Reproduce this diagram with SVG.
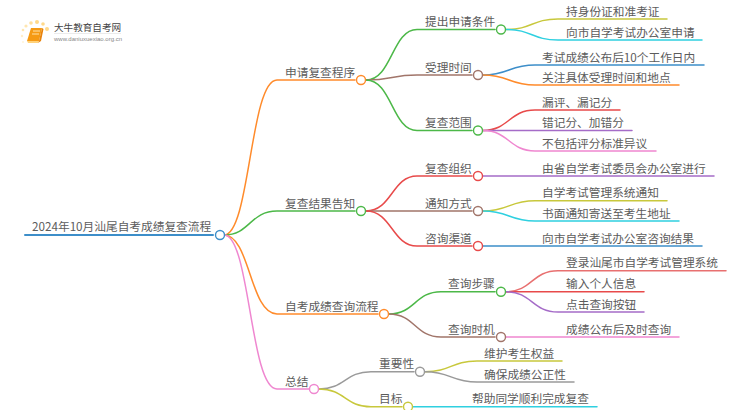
<svg xmlns="http://www.w3.org/2000/svg" width="750" height="410" viewBox="0 0 750 410">
<style>
text{font-family:"Noto Sans CJK SC","Noto Sans",sans-serif;font-size:11.7px;fill:#5c5c5c}
.l{fill:none;stroke-width:1.5;stroke-linecap:round}
.root{stroke-width:2}
circle{fill:#fff;stroke-width:1.4}
.bl{stroke:#3d8ec9}.or{stroke:#ff8b2b}.gr{stroke:#4cb848}.re{stroke:#e84a4a}.pu{stroke:#a56cc8}.br{stroke:#a1756a}.pi{stroke:#ef87d0}.gy{stroke:#9a9a9a}.ol{stroke:#c8c83c}.cy{stroke:#2fd0e0}.sa{stroke:#e87070}
</style>
<rect width="750" height="410" fill="#fff"/>
<g id="logo">
<circle cx="47" cy="29" r="2" style="fill:#ffd98a;stroke:none"/>
<circle cx="26" cy="26" r="1.6" style="fill:#ffe6b0;stroke:none"/>
<circle cx="23" cy="30" r="1.3" style="fill:#ffe6b0;stroke:none"/>
<circle cx="22" cy="36" r="1.2" style="fill:#ffeecb;stroke:none"/>
<circle cx="23" cy="42" r="1" style="fill:#fff3d9;stroke:none"/>
<circle cx="31" cy="23" r="1.8" style="fill:#ffdf9c;stroke:none"/>
<circle cx="37" cy="22" r="2" style="fill:#ffd98a;stroke:none"/>
<circle cx="43" cy="24" r="1.8" style="fill:#ffd98a;stroke:none"/>
<path d="M31 28H42L39 41H27Z" fill="#f59a14"/>
<path d="M27 41H39L38 43H28Z" fill="#ffd27a"/>
<path d="M42 28L39 41L38 43L41 41L43.500 29Z" fill="#e8830c"/>
<path d="M33 31H40M32 34H39" stroke="#ffe2a8" stroke-width="1" fill="none"/>
<text x="54" y="31" style="font-size:9.600px;fill:#444">大牛教育自考网</text>
<path d="M54 33.500H121" stroke="#ddd" stroke-width="0.600" fill="none"/>
<text x="54" y="41" style="font-size:6px;fill:#888;font-family:'Liberation Sans',sans-serif">www.daniuxuexiao.org.cn</text>
</g>
<g id="connectors">
<path class="l root bl" d="M25 235H213"/>
<path class="l or" d="M224 235C250 235 250 80 277 80H355"/>
<path class="l gr" d="M224 235C250 235 250 211 277 211H355"/>
<path class="l or" d="M224 235C250 235 250 314 277 314H378"/>
<path class="l pi" d="M224 235C250 235 250 389 277 389H309"/>
<path class="l gr" d="M366 80C392 80 392 29.500 417 29.500H495"/>
<path class="l br" d="M366 80C392 80 392 75 417 75H472"/>
<path class="l gr" d="M366 80C392 80 392 130.500 417 130.500H472"/>
<path class="l re" d="M366 211C392 211 392 176 417 176H472"/>
<path class="l br" d="M366 211C392 211 392 211 417 211H472"/>
<path class="l re" d="M366 211C392 211 392 246 417 246H472"/>
<path class="l gr" d="M389 314C415 314 415 291.700 441 291.700H495"/>
<path class="l br" d="M389 314C415 314 415 337 441 337H495"/>
<path class="l gy" d="M319 389C345 389 345 371.700 371 371.700H414"/>
<path class="l ol" d="M319 389C345 389 345 406.700 371 406.700H402"/>
<path class="l ol" d="M506 29.500C532 29.500 532 19 558 19H667"/>
<path class="l cy" d="M506 29.500C532 29.500 532 40 558 40H702"/>
<path class="l bl" d="M483 75C509 75 509 65 535 65H704"/>
<path class="l or" d="M483 75C509 75 509 85 535 85H679"/>
<path class="l re" d="M483 130.500C509 130.500 509 110 535 110H620"/>
<path class="l pu" d="M483 130.500C509 130.500 509 130.500 535 130.500H632"/>
<path class="l pi" d="M483 130.500C509 130.500 509 151 535 151H656"/>
<path class="l pu" d="M483 176H714"/>
<path class="l ol" d="M483 211C509 211 509 200.700 535 200.700H667"/>
<path class="l cy" d="M483 211C509 211 509 221 535 221H679"/>
<path class="l bl" d="M483 246H702"/>
<path class="l sa" d="M506 291.700C532 291.700 532 270.700 558 270.700H726"/>
<path class="l re" d="M506 291.700H644"/>
<path class="l pu" d="M506 291.700C532 291.700 532 312 558 312H644"/>
<path class="l pi" d="M506 337H679"/>
<path class="l ol" d="M425 371.700C451 371.700 451 361 477 361H562"/>
<path class="l gy" d="M425 371.700C451 371.700 451 382 477 382H574"/>
<path class="l cy" d="M413 406.700H597"/>
</g>
<g id="n0"><text x="32" y="231">2024年10月汕尾自考成绩复查流程</text><circle class="bl" cx="220" cy="235" r="4.500"/></g>
<g id="n1"><text x="285" y="76.500">申请复查程序</text><circle class="or" cx="361" cy="80" r="4.500"/></g>
<g id="n2"><text x="285" y="207.500">复查结果告知</text><circle class="gr" cx="361" cy="211" r="4.500"/></g>
<g id="n3"><text x="285" y="310.500">自考成绩查询流程</text><circle class="or" cx="384" cy="314" r="4.500"/></g>
<g id="n4"><text x="285" y="385.500">总结</text><circle class="pi" cx="314" cy="389" r="4.500"/></g>
<g id="n5"><text x="425" y="26">提出申请条件</text><circle class="gr" cx="501" cy="29.500" r="4.500"/></g>
<g id="n6"><text x="425" y="71.500">受理时间</text><circle class="br" cx="478" cy="75" r="4.500"/></g>
<g id="n7"><text x="425" y="127">复查范围</text><circle class="gr" cx="478" cy="130.500" r="4.500"/></g>
<g id="n8"><text x="425" y="172.500">复查组织</text><circle class="re" cx="478" cy="176" r="4.500"/></g>
<g id="n9"><text x="425" y="207.500">通知方式</text><circle class="br" cx="478" cy="211" r="4.500"/></g>
<g id="n10"><text x="425" y="242.500">咨询渠道</text><circle class="re" cx="478" cy="246" r="4.500"/></g>
<g id="n11"><text x="448" y="288.200">查询步骤</text><circle class="gr" cx="501" cy="291.700" r="4.500"/></g>
<g id="n12"><text x="448" y="333.500">查询时机</text><circle class="br" cx="501" cy="337" r="4.500"/></g>
<g id="n13"><text x="379" y="368.200">重要性</text><circle class="gy" cx="420" cy="371.700" r="4.500"/></g>
<g id="n14"><text x="379" y="403.200">目标</text><circle class="ol" cx="408" cy="406.700" r="4.500"/></g>
<g id="leaves">
<text x="566" y="15.500">持身份证和准考证</text>
<text x="566" y="36.500">向市自学考试办公室申请</text>
<text x="542" y="61.500">考试成绩公布后10个工作日内</text>
<text x="542" y="81.500">关注具体受理时间和地点</text>
<text x="542" y="106.500">漏评、漏记分</text>
<text x="542" y="127">错记分、加错分</text>
<text x="542" y="147.500">不包括评分标准异议</text>
<text x="542" y="172.500">由省自学考试委员会办公室进行</text>
<text x="542" y="197.200">自学考试管理系统通知</text>
<text x="542" y="217.500">书面通知寄送至考生地址</text>
<text x="542" y="242.500">向市自学考试办公室咨询结果</text>
<text x="566" y="267.200">登录汕尾市自学考试管理系统</text>
<text x="566" y="288.200">输入个人信息</text>
<text x="566" y="308.500">点击查询按钮</text>
<text x="566" y="333.500">成绩公布后及时查询</text>
<text x="484" y="357.500">维护考生权益</text>
<text x="484" y="378.500">确保成绩公正性</text>
<text x="472" y="403.200">帮助同学顺利完成复查</text>
</g>
</svg>
